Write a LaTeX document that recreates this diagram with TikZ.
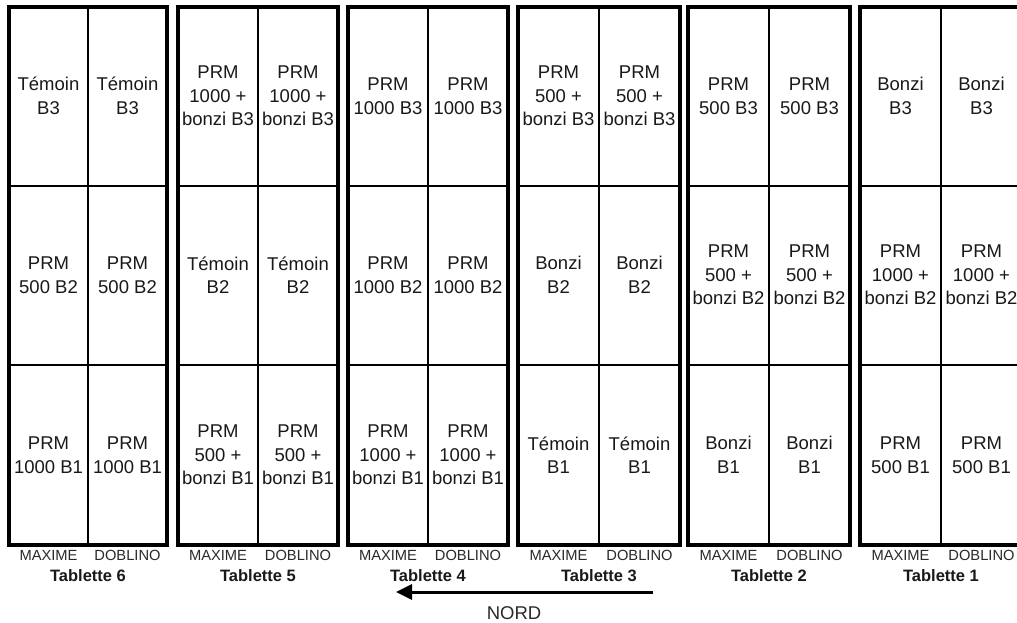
\documentclass[tikz,border=0pt]{standalone}
\usepackage{fontspec}
\setmainfont{Liberation Sans}
\usetikzlibrary{arrows.meta}
\definecolor{labelgray}{HTML}{2A2A2A}
\tikzset{
  cell/.style={align=center, inner sep=0pt, font=\fontsize{18.5}{23.5}\selectfont, text=black!90},
  who/.style={inner sep=0pt, font=\fontsize{14.7}{16}\selectfont, text=labelgray},
  tabname/.style={inner sep=0pt, font=\fontsize{16.5}{18}\selectfont\bfseries, text=black!90},
  outer/.style={line width=3.2pt},
  midline/.style={line width=1.6pt},
  rowline/.style={line width=2pt},
  rowlinetwo/.style={line width=1.3pt},
}
\begin{document}
\begin{tikzpicture}[x=1pt,y=-1pt]
\useasboundingbox (0,0) rectangle (1017,623);
\fill[white] (0,0) rectangle (1017,623);
\clip (0,0) rectangle (1017,623);
% left, width, number, top text, middle text, bottom text
\foreach \L/\W/\n/\A/\B/\C in {
  9/158/6/{Témoin\\B3}/{PRM\\500 B2}/{PRM\\1000 B1},
  178/160/5/{PRM\\1000 +\\bonzi B3}/{Témoin\\B2}/{PRM\\500 +\\bonzi B1},
  348/160/4/{PRM\\1000 B3}/{PRM\\1000 B2}/{PRM\\1000 +\\bonzi B1},
  518/162/3/{PRM\\500 +\\bonzi B3}/{Bonzi\\B2}/{Témoin\\B1},
  688/162/2/{PRM\\500 B3}/{PRM\\500 +\\bonzi B2}/{Bonzi\\B1},
  860/162/1/{Bonzi\\B3}/{PRM\\1000 +\\bonzi B2}/{PRM\\500 B1}}{
  \pgfmathsetmacro{\R}{\L+\W}
  \pgfmathsetmacro{\M}{\L+\W/2}
  \pgfmathsetmacro{\Ca}{\L+\W/4}
  \pgfmathsetmacro{\Cb}{\L+3*\W/4}
  \draw[midline] (\M,7) -- (\M,545);
  \draw[rowline] (\L,185.5) -- (\R,185.5);
  \draw[rowlinetwo] (\L,365) -- (\R,365);
  \draw[outer] (\L,7) rectangle (\R,545);
  \node[cell] (t\n r1a) at (\Ca,96) {\A};
  \node[cell] (t\n r1b) at (\Cb,96) {\A};
  \node[cell] (t\n r2a) at (\Ca,275) {\B};
  \node[cell] (t\n r2b) at (\Cb,275) {\B};
  \node[cell] (t\n r3a) at (\Ca,455) {\C};
  \node[cell] (t\n r3b) at (\Cb,455) {\C};
  \node[who] (t\n max) at (\Ca,555) {MAXIME};
  \node[who] (t\n dob) at (\Cb,555) {DOBLINO};
  \node[tabname] (t\n name) at (\M,575.5) {Tablette \n};
}
\coordinate (arrowstart) at (653,592);
\coordinate (arrowend) at (396,592);
\draw[line width=3pt, -{Triangle[length=16pt,width=15pt]}] (arrowstart) -- (arrowend);
\node[who, font=\fontsize{18.5}{20}\selectfont] (nord) at (514,613) {NORD};
\end{tikzpicture}
\end{document}
